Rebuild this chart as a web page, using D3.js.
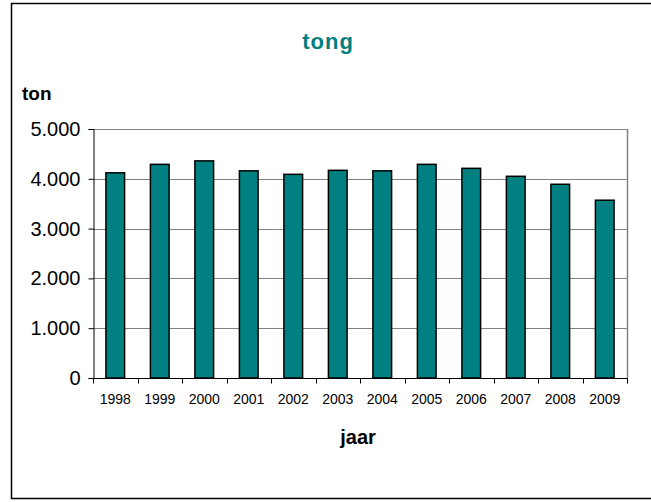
<!DOCTYPE html>
<html>
<head>
<meta charset="utf-8">
<script src="https://cdn.jsdelivr.net/npm/d3@7"></script>
<style>
  html, body { margin: 0; padding: 0; background: #fff; }
  svg { display: block; font-family: "Liberation Sans", Arial, sans-serif; }
</style>
</head>
<body>
<svg id="chart" width="651" height="502"></svg>
<script>
const years = ["1998","1999","2000","2001","2002","2003","2004","2005","2006","2007","2008","2009"];
const tonnes = [4120, 4290, 4360, 4160, 4090, 4170, 4160, 4290, 4210, 4050, 3890, 3570];
const yTicks = [0, 1000, 2000, 3000, 4000, 5000];
const titleText = "tong";
const yTitle = "ton";
const xTitle = "jaar";

const svg = d3.select("#chart");
const plot = { left: 93, right: 627, top: 129, bottom: 378 };

const nl = d3.formatLocale({ decimal: ",", thousands: ".", grouping: [3], currency: ["€", ""] });
const fmt = nl.format(",d");

const x = d3.scaleBand().domain(years).range([plot.left, plot.right]).paddingInner(0.58).paddingOuter(0.29);
const y = d3.scaleLinear().domain([0, 5000]).range([plot.bottom, plot.top]);

// outer frame
svg.append("rect").attr("x", 11.5).attr("y", 3.5).attr("width", 660).attr("height", 495)
  .attr("fill", "none").attr("stroke", "#000").attr("stroke-width", 1.5);

// gridlines
svg.append("g").selectAll("line").data(yTicks.filter(d => d > 0)).join("line")
  .attr("x1", plot.left).attr("x2", plot.right)
  .attr("y1", d => Math.round(y(d)) + 0.5).attr("y2", d => Math.round(y(d)) + 0.5)
  .attr("stroke", "#808080").attr("stroke-width", 1);

// right border of plot area
svg.append("line").attr("x1", plot.right + 0.5).attr("x2", plot.right + 0.5)
  .attr("y1", plot.top).attr("y2", plot.bottom)
  .attr("stroke", "#808080").attr("stroke-width", 1.5);

// bars
svg.append("g").selectAll("rect").data(years).join("rect")
  .attr("x", (d) => x(d))
  .attr("y", (d, i) => y(tonnes[i]))
  .attr("width", x.bandwidth())
  .attr("height", (d, i) => y(0) - y(tonnes[i]))
  .attr("fill", "#008080").attr("stroke", "#000").attr("stroke-width", 1.5);

// y axis
const yAxis = d3.axisLeft(y).tickValues(yTicks).tickFormat(fmt).tickSize(5).tickPadding(8);
const gy = svg.append("g").attr("transform", `translate(${plot.left + 0.5},0)`).call(yAxis);
gy.select(".domain").attr("stroke", "#000").attr("stroke-width", 1);
gy.selectAll(".tick line").attr("stroke", "#000");
gy.selectAll(".tick text").attr("font-size", 20).attr("fill", "#000")
  .attr("font-family", "Liberation Sans, Arial, sans-serif");

// x axis line + ticks at band boundaries
const gx = svg.append("g").attr("transform", `translate(0,${plot.bottom + 0.5})`);
gx.append("line").attr("x1", plot.left).attr("x2", plot.right + 1).attr("y1", 0).attr("y2", 0)
  .attr("stroke", "#000");
const boundaries = years.map(d => x(d) - x.step() * x.paddingInner() / 2);
boundaries.push(plot.right);
gx.selectAll("line.tk").data(boundaries).join("line").attr("class", "tk")
  .attr("x1", d => Math.round(d) + 0.5).attr("x2", d => Math.round(d) + 0.5)
  .attr("y1", 0).attr("y2", 5).attr("stroke", "#000");
gx.selectAll("text").data(years).join("text")
  .attr("x", d => x(d) + x.bandwidth() / 2).attr("y", 25)
  .attr("text-anchor", "middle").attr("font-size", 14).attr("fill", "#000")
  .text(d => d);

// titles
svg.append("text").attr("x", 328).attr("y", 49).attr("text-anchor", "middle")
  .attr("font-size", 22).attr("font-weight", "bold").attr("fill", "#008080")
  .attr("letter-spacing", 1).text(titleText);
svg.append("text").attr("x", 22).attr("y", 100)
  .attr("font-size", 19).attr("font-weight", "bold").attr("fill", "#000").text(yTitle);
svg.append("text").attr("x", 358).attr("y", 444).attr("text-anchor", "middle")
  .attr("font-size", 20).attr("font-weight", "bold").attr("fill", "#000").text(xTitle);
</script>
</body>
</html>
